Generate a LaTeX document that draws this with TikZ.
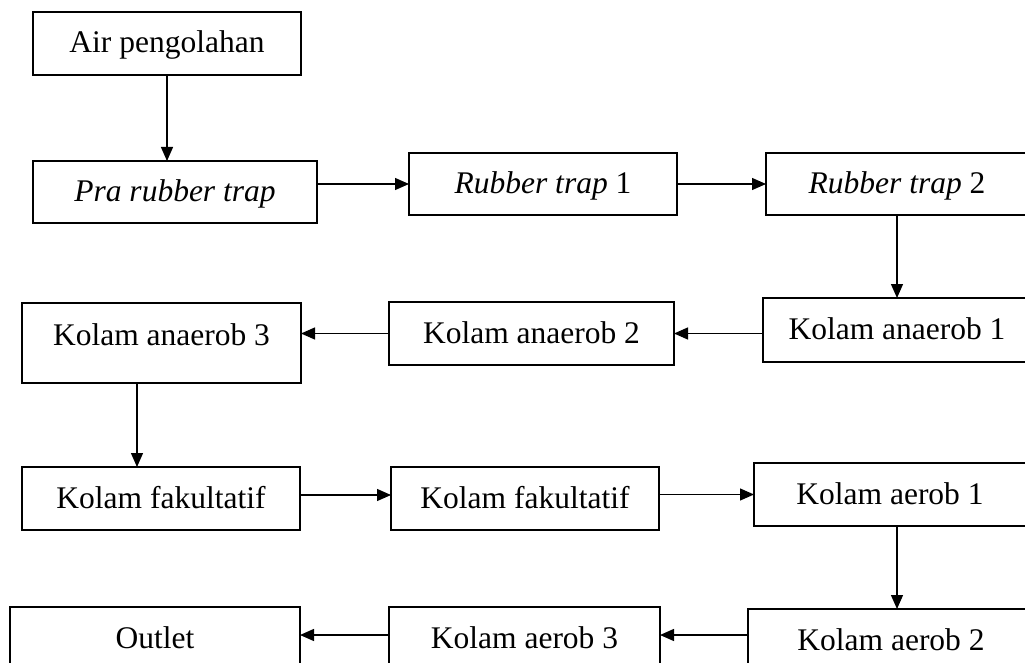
\documentclass[tikz,border=0pt]{standalone}
\usepackage{fontspec}
\setmainfont{Liberation Serif}
\usetikzlibrary{arrows.meta,calc}
\tikzset{
  box/.style={draw, line width=1.3pt, rectangle, inner sep=0pt, outer sep=0pt,
    font=\fontsize{31.5}{38}\selectfont, text height=25pt, text depth=6pt},
  arr/.style={line width=1.3pt, -{Triangle[length=14pt,width=12pt]}}
}
\begin{document}
\begin{tikzpicture}[x=1pt,y=-1pt]
\useasboundingbox (0,0) rectangle (1025,663);
\clip (0,0) rectangle (1025,663);
% boxes
\node[box, minimum width=268pt, minimum height=63pt] (air) at (167,43.5) {Air pengolahan};
\node[box, minimum width=284pt, minimum height=62pt] (pra) at (175,192) {\itshape Pra rubber trap};
\node[box, minimum width=268pt, minimum height=62pt] (rt1) at (543,184) {\itshape Rubber trap\/ \upshape 1};
\node[box, minimum width=262pt, minimum height=62pt] (rt2) at (897,184) {\itshape Rubber trap\/ \upshape 2};
\node[box, minimum width=268pt, minimum height=64pt] (ka1) at (897,330) {Kolam anaerob 1};
\node[box, minimum width=285pt, minimum height=63pt] (ka2) at (531.5,333.5) {Kolam anaerob 2};
\node[box, minimum width=279pt, minimum height=80pt, text depth=21pt] (ka3) at (161.5,343) {Kolam anaerob 3};
\node[box, minimum width=278pt, minimum height=63pt] (kf1) at (161,498.5) {Kolam fakultatif};
\node[box, minimum width=268pt, minimum height=63pt] (kf2) at (525,498.5) {Kolam fakultatif};
\node[box, minimum width=272pt, minimum height=63pt] (ae1) at (890,494.5) {Kolam aerob 1};
\node[box, minimum width=286pt, minimum height=63pt] (ae2) at (891,640.5) {Kolam aerob 2};
\node[box, minimum width=271pt, minimum height=63pt] (ae3) at (524.5,638.5) {Kolam aerob 3};
\node[box, minimum width=290pt, minimum height=63pt] (out) at (155,638.5) {Outlet};
% connectors
\draw[arr] (air.south) -- (air.south |- pra.north);
\draw[arr] (pra.east |- rt1.west) -- (rt1.west);
\draw[arr] (rt1.east) -- (rt2.west);
\draw[arr] (rt2.south) -- (rt2.south |- ka1.north);
\draw[arr] (ka1.west |- ka2.east) -- (ka2.east);
\draw[arr] (ka2.west) -- (ka3.east |- ka2.west);
\draw[arr] ([xshift=115pt]ka3.south west) -- ([xshift=115pt]ka3.south west |- kf1.north);
\draw[arr] ([yshift=3.5pt]kf1.east) -- ([yshift=3.5pt]kf2.west);
\draw[arr] (kf2.east |- ae1.west) -- (ae1.west);
\draw[arr] ([xshift=7pt]ae1.south) -- ([xshift=7pt]ae1.south |- ae2.north);
\draw[arr] ([yshift=5.5pt]ae2.west) -- ([yshift=5.5pt]ae2.west -| ae3.east);
\draw[arr] ([yshift=3.5pt]ae3.west) -- ([yshift=3.5pt]ae3.west -| out.east);
\end{tikzpicture}
\end{document}
